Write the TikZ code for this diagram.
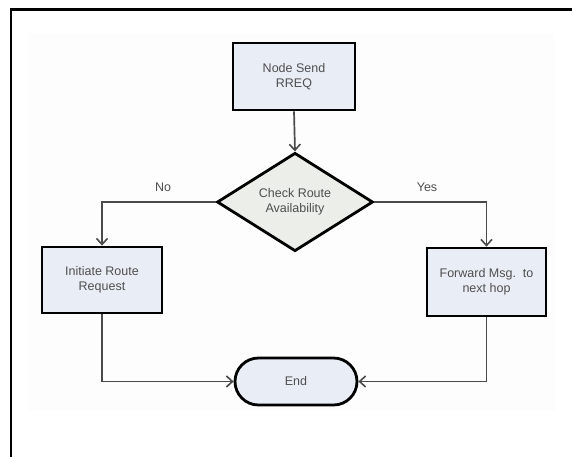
\documentclass[tikz,border=0pt]{standalone}
\usepackage{fontspec}
\setmainfont{Liberation Sans}
\usetikzlibrary{arrows.meta,shapes.geometric,shapes.misc}
\definecolor{boxfill}{HTML}{E9EDF6}
\definecolor{diafill}{HTML}{ECEEE9}
\definecolor{linegray}{HTML}{4A4A4A}
\definecolor{txtgray}{HTML}{4F4F4F}
\definecolor{faint}{HTML}{FDFDFD}
\begin{document}
\begin{tikzpicture}[x=1pt,y=-1pt,
  txt/.style={font=\fontsize{12.5}{14.5}\selectfont, text=txtgray},
  procbox/.style={txt, draw=black, line width=2.8pt, fill=boxfill, inner sep=0pt, align=center},
  decision/.style={txt, diamond, draw=black, line width=2.8pt, fill=diafill, inner sep=0pt, align=center, minimum width=156pt, minimum height=91pt},
  terminal/.style={txt, rounded rectangle, draw=black, line width=2.8pt, fill=boxfill, inner sep=0pt, minimum width=122pt, minimum height=47pt},
  conn/.style={draw=linegray, line width=1.7pt, -{Straight Barb[length=6pt,width=11pt,line width=1.6pt]}},
  lbl/.style={txt}
]
\useasboundingbox (0,0) rectangle (572,456);
\begin{scope}
\clip (0,0) rectangle (572,456);
\fill[faint] (28,33) rectangle (555,411);
\draw[black, line width=2.2pt] (11,470) -- (11,9.5) -- (590,9.5);
\end{scope}

\node[procbox, minimum width=122pt, minimum height=67pt] (send) at (294,76.5) {Node Send\\RREQ};
\node[decision] (check) at (295,202) {Check Route\\Availability};
\node[procbox, minimum width=120pt, minimum height=66pt] (init) at (102,280) {Initiate Route\\Request};
\node[procbox, minimum width=119pt, minimum height=68pt] (fwd) at (486.5,282) {Forward Msg.\ \ to\\next hop};
\node[terminal] (end) at (296,381.5) {End};

\node[lbl] (no) at (163,187) {No};
\node[lbl] (yes) at (427,187) {Yes};

\draw[conn] (send.south) -- (check.north);
\draw[conn] (check.west) -| (init.north);
\draw[conn] (check.east) -| (fwd.north);
\draw[conn] (init.south) |- (end.west);
\draw[conn] (fwd.south) |- (end.east);
\end{tikzpicture}
\end{document}
